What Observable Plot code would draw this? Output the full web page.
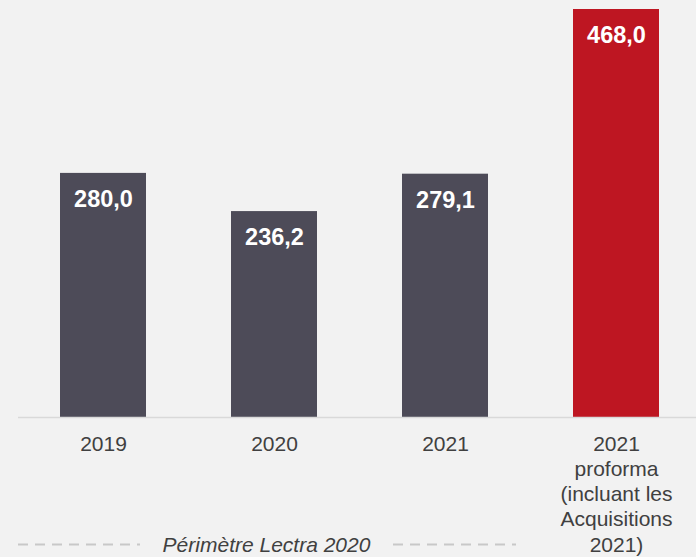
<!DOCTYPE html>
<html>
<head>
<meta charset="utf-8">
<script src="https://cdn.jsdelivr.net/npm/d3@7"></script>
<script src="https://cdn.jsdelivr.net/npm/@observablehq/plot@0.6"></script>
<style>
  html, body { margin: 0; padding: 0; background: #f2f2f2; }
  svg { display: block; overflow: visible; }
</style>
</head>
<body>
<div id="chart"></div>
<script>
const categories = ["2019", "2020", "2021", "2021 proforma"];
const values = [280.0, 236.2, 279.1, 468.0];
const tickLabels = ["2019", "2020", "2021", "2021\nproforma\n(incluant les\nAcquisitions\n2021)"];
const highlighted = [false, false, false, true];
const scopeLabel = "Périmètre Lectra 2020";
const scopeCenter = "2020";

const data = categories.map((c, i) => ({
  cat: c,
  value: values[i],
  label: values[i].toFixed(1).replace(".", ","),
  hi: highlighted[i]
}));

const chart = Plot.plot({
  width: 696,
  height: 557,
  marginTop: 9,
  marginBottom: 140,
  marginLeft: 18,
  marginRight: 0,
  style: { background: "#f2f2f2", fontFamily: "'Liberation Sans', Arial, sans-serif" },
  x: { domain: categories, paddingInner: 0.5, paddingOuter: 0.229, align: 0.523, label: null },
  y: { domain: [0, 468], axis: null },
  marks: [
    Plot.barY(data, { x: "cat", y: "value", fill: d => d.hi ? "#be1622" : "#4d4b58" }),
    Plot.ruleY([0], { stroke: "#d9d9d9", strokeWidth: 1.5 }),
    Plot.text(data, {
      x: "cat", y: "value", text: "label", dy: 26,
      fill: "white", fontWeight: "bold", fontSize: 23.5, lineAnchor: "middle"
    }),
    Plot.axisX({
      tickSize: 0, tickPadding: 15.5, fontSize: 21, lineHeight: 1.2,
      fill: "#404040", label: null,
      tickFormat: d => tickLabels[categories.indexOf(d)]
    }),
    Plot.ruleY([0], { dy: 127, insetLeft: 0, insetRight: 556, stroke: "#c8c8c8", strokeWidth: 2, strokeDasharray: "10,7" }),
    Plot.ruleY([0], { dy: 127, insetLeft: 375, insetRight: 180, stroke: "#c8c8c8", strokeWidth: 2, strokeDasharray: "10,7" }),
    Plot.text([scopeLabel], {
      x: () => scopeCenter, frameAnchor: "bottom", dy: 128, dx: -8,
      text: d => d, fontSize: 21, fontStyle: "italic", fill: "#404040", lineAnchor: "middle"
    })
  ]
});
document.getElementById("chart").append(chart);
</script>
</body>
</html>
